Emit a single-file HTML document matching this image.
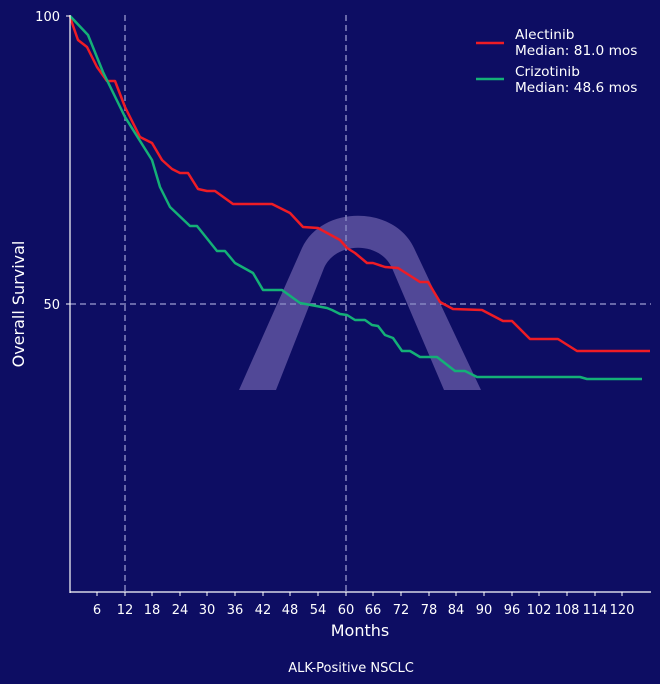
<!DOCTYPE html>
<html><head><meta charset="utf-8"><style>
html,body{margin:0;padding:0;background:#0d0d63;}
svg{display:block;font-family:"DejaVu Sans","Liberation Sans",sans-serif;}
</style></head><body>
<svg width="660" height="684" viewBox="0 0 660 684" xmlns="http://www.w3.org/2000/svg">
<rect width="660" height="684" fill="#0d0d63"/>
<path d="M239,390 L302,248 C322,205 394,205 414,248 L481,390 L444,390 L392,268 C380,241 336,241 324,268 L276,390 Z" fill="#5e54a0" fill-opacity="0.85"/>
<g stroke="#8585c0" stroke-width="1.5" stroke-dasharray="6,4" fill="none">
<line x1="125" y1="15" x2="125" y2="592"/>
<line x1="346" y1="15" x2="346" y2="592"/>
<line x1="70" y1="304" x2="651" y2="304"/>
</g>
<polyline fill="none" stroke="#ee1c25" stroke-width="2.5" stroke-linejoin="round" points="70,16 71,20 78,40 87,47 97,67 107,81 115,81 125,107 140,137 152,143 162,160 172,169 180,173 188,173 198,189 207,191 215,191 233,204 272,204 290,213 303,227 318,228 340,240 347,248 355,253 367,263 373,263 385,267 398,268 420,282 428,282 440,302 453,309 482,310 503,321 512,321 530,339 558,339 577,351 650,351"/>
<polyline fill="none" stroke="#14b077" stroke-width="2.5" stroke-linejoin="round" points="70,16 71,17 88,35 103,72 125,117 152,160 160,187 170,207 190,226 197,226 217,251 225,251 235,263 253,273 263,290 282,290 300,303 327,308 332,310 340,314 347,315 355,320 365,320 372,325 378,326 385,335 393,338 402,351 410,351 420,357 437,357 455,371 465,371 477,377 580,377 587,379 642,379"/>
<line x1="70" y1="15" x2="70" y2="593" stroke="#fff" stroke-width="1.2"/>
<line x1="70" y1="592" x2="651" y2="592" stroke="#fff" stroke-width="1.2"/>
<g stroke="#fff" stroke-width="1">
<line x1="66" y1="16" x2="70" y2="16"/><line x1="66" y1="304" x2="70" y2="304"/>
</g>
<g fill="#fff" font-size="13" text-anchor="end">
<text x="60" y="21">100</text><text x="60" y="309">50</text>
</g>
<g fill="#fff" font-size="13" text-anchor="middle">
<text x="97" y="614">6</text><text x="125" y="614">12</text><text x="152" y="614">18</text><text x="180" y="614">24</text><text x="207" y="614">30</text><text x="235" y="614">36</text><text x="263" y="614">42</text><text x="290" y="614">48</text><text x="318" y="614">54</text><text x="346" y="614">60</text><text x="373" y="614">66</text><text x="401" y="614">72</text><text x="429" y="614">78</text><text x="456" y="614">84</text><text x="484" y="614">90</text><text x="512" y="614">96</text><text x="539" y="614">102</text><text x="567" y="614">108</text><text x="595" y="614">114</text><text x="622" y="614">120</text>
</g>
<g stroke="#fff" stroke-width="1">
<line x1="97" y1="592" x2="97" y2="596"/><line x1="125" y1="592" x2="125" y2="596"/><line x1="152" y1="592" x2="152" y2="596"/><line x1="180" y1="592" x2="180" y2="596"/><line x1="207" y1="592" x2="207" y2="596"/><line x1="235" y1="592" x2="235" y2="596"/><line x1="263" y1="592" x2="263" y2="596"/><line x1="290" y1="592" x2="290" y2="596"/><line x1="318" y1="592" x2="318" y2="596"/><line x1="346" y1="592" x2="346" y2="596"/><line x1="373" y1="592" x2="373" y2="596"/><line x1="401" y1="592" x2="401" y2="596"/><line x1="429" y1="592" x2="429" y2="596"/><line x1="456" y1="592" x2="456" y2="596"/><line x1="484" y1="592" x2="484" y2="596"/><line x1="512" y1="592" x2="512" y2="596"/><line x1="539" y1="592" x2="539" y2="596"/><line x1="567" y1="592" x2="567" y2="596"/><line x1="595" y1="592" x2="595" y2="596"/><line x1="622" y1="592" x2="622" y2="596"/>
</g>
<text x="360" y="636" fill="#fff" font-size="16" text-anchor="middle">Months</text>
<text transform="translate(24,304) rotate(-90)" fill="#fff" font-size="16" text-anchor="middle">Overall Survival</text>
<text x="351" y="672" fill="#fff" font-size="13" text-anchor="middle">ALK-Positive NSCLC</text>
<line x1="476" y1="43" x2="504" y2="43" stroke="#ee1c25" stroke-width="2.5"/>
<line x1="476" y1="79" x2="504" y2="79" stroke="#14b077" stroke-width="2.5"/>
<g fill="#fff" font-size="13.7">
<text x="515" y="39">Alectinib</text><text x="515" y="55">Median: 81.0 mos</text>
<text x="515" y="76">Crizotinib</text><text x="515" y="92">Median: 48.6 mos</text>
</g>
</svg>
</body></html>
